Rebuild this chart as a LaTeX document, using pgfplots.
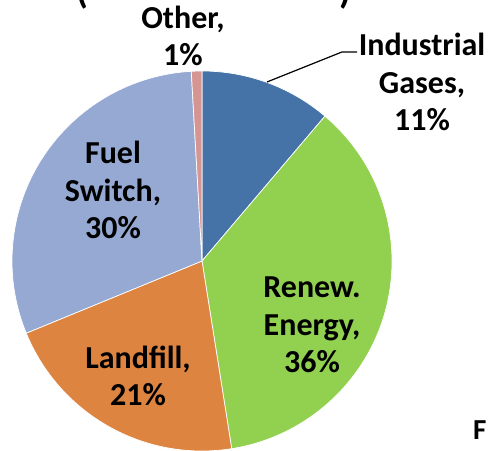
\documentclass[border=0pt]{standalone}
\usepackage{fontspec}
\setmainfont{Carlito}
\usepackage{pgfplots}
\usepackage{pgfplotstable}
\pgfplotsset{compat=1.18}
\definecolor{cInd}{HTML}{4573A8}
\definecolor{cRen}{HTML}{92D050}
\definecolor{cLan}{HTML}{DE8441}
\definecolor{cFue}{HTML}{95A9D3}
\definecolor{cOth}{HTML}{D59593}
\pgfplotstableread{
label value color
Industrial 11.2 cInd
Renew 36.3 cRen
Landfill 21.3 cLan
Fuel 30.3 cFue
Other 0.9 cOth
}\piedata
\begin{document}
\begin{tikzpicture}
\begin{axis}[name=ax, x=1bp, y=1bp, xmin=0, xmax=488, ymin=0, ymax=451,
  hide axis, clip=false]
\pgfplotstablegetrowsof{\piedata}
\pgfmathtruncatemacro\N{\pgfplotsretval-1}
\def\cum{0}
\pgfplotsforeachungrouped \i in {0,...,\N}{%
  \pgfplotstablegetelem{\i}{value}\of\piedata \let\v\pgfplotsretval
  \pgfplotstablegetelem{\i}{color}\of\piedata \let\c\pgfplotsretval
  \pgfmathsetmacro\a{90-3.6*\cum}%
  \pgfmathsetmacro\b{90-3.6*(\cum+\v)}%
  \pgfmathsetmacro\px{202+190*cos(\a)}%
  \pgfmathsetmacro\py{190+190*sin(\a)}%
  \edef\temp{\noexpand\fill[\c, draw=white, line width=0.7pt] (axis cs:202,190) -- (axis cs:\px,\py) arc[start angle=\a, end angle=\b, radius=190bp] -- cycle;}%
  \temp
  \pgfmathsetmacro\cum{\cum+\v}%
}
\draw[line width=1.2pt] (axis cs:267,369) -- (axis cs:342,399) -- (axis cs:357,399);
\tikzset{lbl/.style={font=\fontsize{32bp}{37.5bp}\selectfont\bfseries, align=center, inner sep=0pt}}
\node[lbl] at (axis cs:183,415) {Other,\\1\%};
\node[lbl] at (axis cs:422,369) {Industrial\\Gases,\\11\%};
\node[lbl] at (axis cs:113,261) {Fuel\\Switch,\\30\%};
\node[lbl] at (axis cs:312,126) {Renew.\\Energy,\\36\%};
\node[lbl] at (axis cs:138,75) {Landfill,\\21\%};
\node[font=\fontsize{38bp}{40bp}\selectfont\bfseries, anchor=base, inner sep=0pt] at (axis cs:82,447) {(};
\node[font=\fontsize{38bp}{40bp}\selectfont\bfseries, anchor=base, inner sep=0pt] at (axis cs:345,447) {)};
\node[font=\fontsize{29bp}{30bp}\selectfont\bfseries, anchor=base west, inner sep=0pt] at (axis cs:473,11) {F};
\end{axis}
\pgfresetboundingbox
\path[use as bounding box] (ax.south west) rectangle (ax.north east);
\end{tikzpicture}
\end{document}
